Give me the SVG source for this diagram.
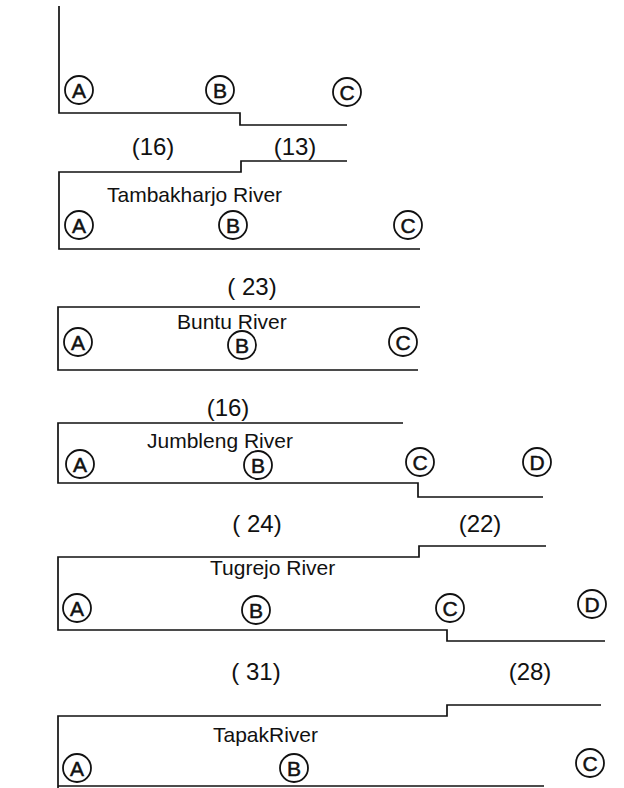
<svg xmlns="http://www.w3.org/2000/svg" width="624" height="788" viewBox="0 0 624 788">
<style>
.bank{fill:none;stroke:#111;stroke-width:1.7;stroke-linejoin:miter}
.st circle{fill:none;stroke:#111;stroke-width:1.8}
.st text{font-family:"Liberation Sans",Arial,sans-serif;font-size:21px;fill:#111;stroke:#111;stroke-width:0.5;text-anchor:middle}
.rv{font-family:"Liberation Sans",Arial,sans-serif;font-size:21px;fill:#111}
.w{font-family:"Liberation Sans",Arial,sans-serif;font-size:24px;fill:#111;text-anchor:middle}
</style>
<rect width="624" height="788" fill="#fff"/>
<g id="banks">
<path class="bank" d="M59,6 V113 H240 V125 H347"/>
<path class="bank" d="M347,161 H241 V172 H59 V249 H420"/>
<path class="bank" d="M420,307 H58 V370 H418"/>
<path class="bank" d="M403,423 H58 V483 H418 V497 H543"/>
<path class="bank" d="M546,546 H419 V557 H58 V630 H447 V641 H605"/>
<path class="bank" d="M601,705 H447 V716 H58 V788"/>
<path class="bank" d="M58,786 H544"/>
</g>
<g id="river0">
<g class="st" id="r0A"><circle cx="79" cy="90" r="14"/><text x="79" y="98">A</text></g>
<g class="st" id="r0B"><circle cx="220" cy="90" r="14"/><text x="220" y="98">B</text></g>
<g class="st" id="r0C"><circle cx="347" cy="92" r="14"/><text x="347" y="100">C</text></g>
<text class="w" x="153" y="155">(16)</text>
<text class="w" x="295" y="155">(13)</text>
</g>
<g id="tambakharjo">
<text class="rv" x="107" y="202">Tambakharjo River</text>
<g class="st" id="r1A"><circle cx="79" cy="225" r="14"/><text x="79" y="233">A</text></g>
<g class="st" id="r1B"><circle cx="233" cy="225" r="14"/><text x="233" y="233">B</text></g>
<g class="st" id="r1C"><circle cx="408" cy="225" r="14"/><text x="408" y="233">C</text></g>
<text class="w" x="252" y="295">( 23)</text>
</g>
<g id="buntu">
<text class="rv" x="177" y="329">Buntu River</text>
<g class="st" id="r2A"><circle cx="78" cy="342" r="14"/><text x="78" y="350">A</text></g>
<g class="st" id="r2B"><circle cx="242" cy="345" r="14"/><text x="242" y="353">B</text></g>
<g class="st" id="r2C"><circle cx="403" cy="342" r="14"/><text x="403" y="350">C</text></g>
<text class="w" x="228" y="416">(16)</text>
</g>
<g id="jumbleng">
<text class="rv" x="147" y="448">Jumbleng River</text>
<g class="st" id="r3A"><circle cx="80" cy="464" r="14"/><text x="80" y="472">A</text></g>
<g class="st" id="r3B"><circle cx="258" cy="465" r="14"/><text x="258" y="473">B</text></g>
<g class="st" id="r3C"><circle cx="420" cy="462" r="14"/><text x="420" y="470">C</text></g>
<g class="st" id="r3D"><circle cx="537" cy="462" r="14"/><text x="537" y="470">D</text></g>
<text class="w" x="257" y="532">( 24)</text>
<text class="w" x="480" y="532">(22)</text>
</g>
<g id="tugrejo">
<text class="rv" x="210" y="575">Tugrejo River</text>
<g class="st" id="r4A"><circle cx="77" cy="608" r="14"/><text x="77" y="616">A</text></g>
<g class="st" id="r4B"><circle cx="256" cy="610" r="14"/><text x="256" y="618">B</text></g>
<g class="st" id="r4C"><circle cx="450" cy="608" r="14"/><text x="450" y="616">C</text></g>
<g class="st" id="r4D"><circle cx="592" cy="604" r="14"/><text x="592" y="612">D</text></g>
<text class="w" x="256" y="680">( 31)</text>
<text class="w" x="530" y="680">(28)</text>
</g>
<g id="tapak">
<text class="rv" x="213" y="742">TapakRiver</text>
<g class="st" id="r5A"><circle cx="77" cy="768" r="14"/><text x="77" y="776">A</text></g>
<g class="st" id="r5B"><circle cx="294" cy="768" r="14"/><text x="294" y="776">B</text></g>
<g class="st" id="r5C"><circle cx="590" cy="763" r="14"/><text x="590" y="771">C</text></g>
</g>
</svg>
